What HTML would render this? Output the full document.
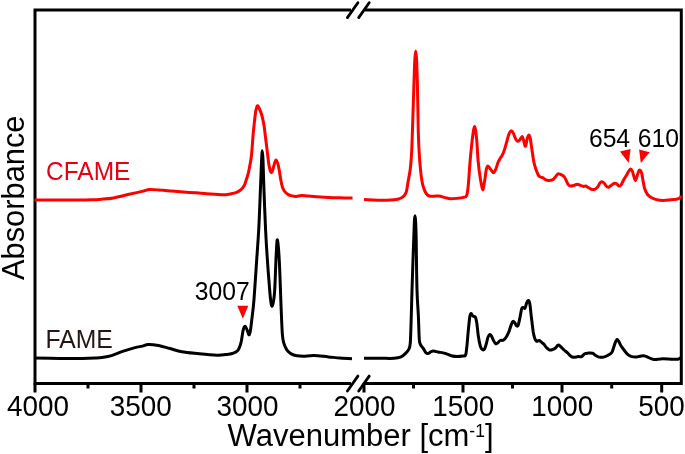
<!DOCTYPE html>
<html>
<head>
<meta charset="utf-8">
<title>FTIR spectra</title>
<style>
html,body{margin:0;padding:0;background:#fff;}
body{width:685px;height:454px;overflow:hidden;}
svg{display:block;}
text{font-family:"Liberation Sans",Arial,Helvetica,sans-serif;}
</style>
</head>
<body>
<svg width="685" height="454" viewBox="0 0 685 454">
<rect width="685" height="454" fill="#fff"/>
<!-- frame -->
<g fill="none" stroke="#000" stroke-width="3">
<path d="M351 10H35V383.5H351"/>
<path d="M365 10H681.3V383.5H365"/>
</g>
<!-- axis break marks -->
<g fill="none" stroke="#000" stroke-width="2.8" stroke-linecap="round">
<path d="M347.4 17.6L357.9 2.7"/>
<path d="M358.7 17.6L369.2 2.7"/>
<path d="M347.4 391L357.9 376.1"/>
<path d="M358.7 391L369.2 376.1"/>
</g>
<!-- ticks -->
<g fill="none" stroke="#000" stroke-width="3">
<path d="M35 383V392.4M141 383V392.4M247 383V392.4M364 383V392.4M463 383V392.4M562 383V392.4M661.7 383V392.4"/>
<path d="M88 383V388.5M194 383V388.5M300 383V388.5M413.5 383V388.5M512.5 383V388.5M611.7 383V388.5"/>
</g>
<!-- tick labels -->
<g font-size="28" fill="#000" text-anchor="middle" transform="translate(0,415.7) scale(0.995,1.04)">
<text x="38.2" y="0">4000</text>
<text x="141.5" y="0">3500</text>
<text x="248.8" y="0">3000</text>
<text x="366.4" y="0">2000</text>
<text x="465.5" y="0">1500</text>
<text x="565.1" y="0">1000</text>
<text x="664.8" y="0">500</text>
</g>
<!-- axis titles -->
<text x="227.6" y="445.8" font-size="31" fill="#000">Wavenumber [cm<tspan font-size="17.5" dy="-8.6">-1</tspan><tspan dy="8.6">]</tspan></text>
<text transform="translate(24,280.1) rotate(-90)" font-size="30.85" fill="#000">Absorbance</text>
<!-- curves -->
<g fill="none" stroke="#fe0000" stroke-width="3" stroke-linejoin="round">
<path d="M34.6 200.0C38.8 200.0 52.4 200.0 60.0 200.0C67.6 200.0 74.7 200.0 80.0 200.0C85.3 200.0 88.4 199.9 92.0 199.8C95.6 199.7 98.1 199.5 101.7 199.2C105.3 198.9 109.5 198.6 113.4 197.9C117.3 197.2 121.1 196.1 125.0 195.2C128.9 194.3 133.6 193.3 136.7 192.6C139.8 191.9 141.5 191.5 143.7 191.0C145.8 190.5 146.9 189.7 149.6 189.5C152.3 189.3 156.4 189.8 160.1 190.1C163.8 190.3 167.9 190.7 171.8 191.0C175.7 191.3 179.6 191.7 183.5 192.0C187.4 192.3 191.2 192.5 195.1 192.8C199.0 193.1 202.9 193.4 206.8 193.7C210.7 194.0 215.3 194.3 218.5 194.5C221.7 194.7 224.1 194.8 226.0 194.7C227.9 194.6 228.5 194.3 230.2 194.0C231.9 193.7 234.2 193.4 236.0 192.7C237.8 192.0 239.3 191.2 240.7 189.9C242.1 188.7 243.3 187.3 244.4 185.2C245.5 183.1 246.2 179.9 247.0 177.5C247.8 175.1 248.2 174.1 248.9 170.5C249.6 166.9 250.7 162.0 251.4 156.0C252.1 150.0 252.6 140.5 253.1 134.7C253.6 128.9 254.1 125.4 254.5 121.4C254.9 117.4 255.3 113.5 255.8 110.9C256.3 108.3 256.8 106.2 257.4 105.8C258.0 105.4 258.6 107.0 259.3 108.5C260.0 110.0 261.0 112.6 261.7 114.8C262.4 117.0 262.9 119.5 263.3 121.7C263.8 123.9 263.9 124.7 264.4 128.0C264.8 131.3 265.4 136.8 266.0 141.3C266.6 145.8 267.2 151.2 267.7 155.0C268.2 158.8 268.3 161.2 268.8 164.0C269.3 166.8 270.0 170.2 270.6 171.5C271.2 172.8 271.6 172.7 272.2 171.5C272.8 170.3 273.6 166.3 274.2 164.4C274.8 162.5 275.4 160.0 276.0 160.0C276.6 160.0 277.4 162.5 278.0 164.4C278.6 166.3 279.0 169.0 279.5 171.7C280.0 174.4 280.4 177.8 280.9 180.4C281.4 183.0 281.8 185.2 282.4 187.0C283.0 188.8 283.6 190.1 284.6 191.4C285.6 192.7 287.0 193.8 288.2 194.6C289.4 195.3 290.5 195.6 291.9 195.9C293.2 196.2 294.7 196.5 296.3 196.4C297.9 196.3 299.4 195.6 301.4 195.5C303.3 195.4 305.4 195.9 308.0 196.1C310.6 196.3 313.3 196.6 316.7 196.8C320.1 197.0 324.5 197.2 328.4 197.4C332.3 197.6 336.1 197.7 340.1 197.8C344.1 197.9 350.4 198.1 352.5 198.1"/>
<path d="M364.0 199.6C366.7 199.7 375.6 200.2 380.0 200.3C384.4 200.4 387.7 200.3 390.6 200.1C393.5 199.9 395.6 199.7 397.6 199.2C399.7 198.7 401.5 198.0 402.9 196.9C404.3 195.8 405.2 195.1 406.1 192.5C407.0 189.9 407.5 185.1 408.2 181.1C408.9 177.1 409.7 173.7 410.3 168.7C410.9 163.7 411.4 157.2 411.7 151.1C412.0 145.0 412.0 143.0 412.4 132.0C412.8 121.0 413.5 97.0 413.9 85.0C414.3 73.0 414.5 65.7 414.8 60.0C415.1 54.3 415.4 51.0 415.7 51.0C416.0 51.0 416.3 54.3 416.6 60.0C416.9 65.7 417.1 73.0 417.4 85.0C417.7 97.0 418.0 121.0 418.3 132.0C418.6 143.0 418.8 145.6 419.1 151.1C419.4 156.6 419.7 160.8 420.1 165.2C420.5 169.6 420.9 174.0 421.4 177.5C421.9 181.0 422.3 183.7 423.1 186.3C423.9 189.0 425.1 191.8 426.1 193.4C427.1 195.0 428.0 195.5 429.3 196.0C430.6 196.5 432.4 196.2 434.0 196.2C435.6 196.2 437.1 195.8 439.0 196.0C440.9 196.2 443.2 197.2 445.1 197.6C447.0 198.0 448.3 198.6 450.4 198.7C452.5 198.8 455.3 198.5 457.5 198.3C459.7 198.1 462.1 197.8 463.6 197.3C465.1 196.9 465.8 197.5 466.6 195.6C467.4 193.7 467.6 191.9 468.2 186.0C468.8 180.1 469.5 167.9 470.2 160.0C470.9 152.1 471.7 144.2 472.4 138.6C473.1 133.0 473.9 126.5 474.6 126.5C475.3 126.5 476.0 132.9 476.6 138.6C477.2 144.3 477.5 154.0 478.1 160.6C478.7 167.2 479.5 173.5 480.3 178.3C481.1 183.2 482.0 189.3 482.7 189.7C483.4 190.1 484.1 183.9 484.7 180.5C485.3 177.1 485.8 171.8 486.3 169.4C486.9 167.0 487.3 166.1 488.0 166.1C488.7 166.1 489.8 168.3 490.7 169.4C491.6 170.5 492.7 172.7 493.5 172.7C494.3 172.7 495.0 171.1 495.7 169.4C496.4 167.8 497.2 164.6 497.9 162.8C498.6 161.0 499.4 159.7 500.1 158.4C500.8 157.1 501.6 156.6 502.3 155.1C503.0 153.6 503.8 151.8 504.5 149.6C505.2 147.4 506.0 144.5 506.7 141.9C507.4 139.3 508.2 136.0 508.9 134.2C509.6 132.4 510.4 131.1 511.1 130.9C511.8 130.7 512.6 131.8 513.3 133.1C514.0 134.4 514.8 137.2 515.5 138.6C516.2 140.0 517.0 141.1 517.7 141.3C518.4 141.5 519.1 140.5 519.9 139.7C520.6 138.9 521.6 136.2 522.2 136.4C522.8 136.6 523.2 139.2 523.7 140.8C524.2 142.5 524.9 146.7 525.5 146.3C526.1 145.9 526.7 140.5 527.2 138.6C527.8 136.7 528.3 134.9 528.8 134.9C529.3 134.9 529.8 136.0 530.3 138.6C530.8 141.2 531.5 146.8 532.1 150.7C532.7 154.5 533.1 158.6 533.8 161.7C534.4 164.8 535.2 167.1 536.0 169.4C536.8 171.7 537.9 174.3 538.7 175.6C539.5 176.9 540.2 176.8 540.9 177.2C541.6 177.6 542.4 177.4 543.1 177.8C543.8 178.2 544.4 179.2 545.3 179.6C546.2 180.0 547.3 180.5 548.6 180.5C549.9 180.5 551.9 180.2 553.0 179.6C554.1 179.0 554.4 178.2 555.2 177.2C556.0 176.2 557.1 174.2 558.0 173.8C558.9 173.4 559.7 174.1 560.7 174.5C561.7 174.9 563.1 175.5 564.0 176.5C564.9 177.5 565.5 179.2 566.2 180.5C566.9 181.8 567.5 183.7 568.2 184.6C568.9 185.5 569.5 185.8 570.4 186.0C571.3 186.2 572.7 185.8 573.8 185.5C574.9 185.2 576.0 184.2 577.1 184.2C578.2 184.2 579.3 184.9 580.4 185.3C581.5 185.7 582.8 186.3 583.7 186.4C584.6 186.5 585.2 185.8 585.9 186.0C586.6 186.2 587.2 186.9 588.1 187.5C589.0 188.1 590.3 189.0 591.4 189.3C592.5 189.6 593.7 189.7 594.7 189.3C595.7 188.9 596.8 188.1 597.6 187.1C598.5 186.1 599.1 184.0 599.8 183.1C600.5 182.2 601.3 181.8 602.0 181.8C602.7 181.8 603.4 182.5 604.2 183.3C605.0 184.1 606.0 186.0 606.8 186.6C607.6 187.2 608.2 187.4 609.0 187.1C609.8 186.8 610.8 185.5 611.7 184.9C612.6 184.3 613.7 183.5 614.5 183.3C615.3 183.1 616.0 183.4 616.7 183.8C617.4 184.2 618.2 185.8 618.9 186.0C619.6 186.2 620.4 185.8 621.1 184.9C621.8 184.0 622.4 182.2 623.3 180.5C624.2 178.8 625.7 176.6 626.6 175.0C627.5 173.4 628.1 172.2 628.8 171.2C629.5 170.2 630.0 169.0 630.6 169.0C631.2 169.0 631.9 170.2 632.4 171.4C632.9 172.7 633.4 175.0 633.9 176.5C634.4 178.0 635.0 180.6 635.5 180.5C636.0 180.4 636.6 177.5 637.1 176.0C637.6 174.5 638.1 172.5 638.6 171.5C639.1 170.5 639.5 169.9 640.0 170.2C640.5 170.4 641.1 171.4 641.6 173.0C642.1 174.6 642.4 177.4 642.9 180.0C643.4 182.6 643.9 186.4 644.7 188.8C645.5 191.2 646.5 193.2 647.7 194.7C648.9 196.2 650.2 196.9 651.7 197.7C653.2 198.5 654.6 199.1 656.6 199.6C658.6 200.1 661.2 200.4 663.6 200.4C666.0 200.4 668.6 200.0 670.7 199.8C672.8 199.6 674.8 199.4 676.2 199.2C677.6 198.9 678.4 198.9 679.3 198.3C680.2 197.7 681.0 196.2 681.4 195.8"/>
</g>
<g fill="none" stroke="#000" stroke-width="3" stroke-linejoin="round">
<path d="M35.0 358.1C39.2 358.2 52.2 358.3 60.0 358.4C67.8 358.5 76.2 358.6 82.0 358.5C87.8 358.4 91.7 358.2 95.0 358.0C98.3 357.8 99.2 357.8 102.0 357.4C104.8 357.0 107.9 356.7 111.5 355.6C115.1 354.6 119.5 352.4 123.4 351.1C127.3 349.8 131.8 348.4 135.0 347.6C138.2 346.8 140.2 346.6 142.4 346.1C144.6 345.6 145.5 344.5 148.2 344.4C150.9 344.3 154.9 344.8 158.5 345.5C162.1 346.2 166.1 347.5 170.0 348.5C173.9 349.5 176.9 350.8 181.8 351.7C186.7 352.6 193.5 353.1 199.3 353.7C205.2 354.3 212.5 355.0 216.9 355.2C221.3 355.4 223.0 354.9 225.6 354.6C228.2 354.3 230.2 354.2 232.3 353.5C234.4 352.8 236.5 352.2 237.9 350.4C239.3 348.6 240.1 346.0 241.0 342.7C241.9 339.4 242.4 333.0 243.1 330.3C243.8 327.6 244.5 326.0 245.3 326.3C246.1 326.6 247.2 330.5 247.8 331.9C248.5 333.3 248.8 335.2 249.2 334.9C249.6 334.6 250.1 332.4 250.5 330.0C250.9 327.6 251.1 325.6 251.7 320.5C252.3 315.4 253.2 309.5 254.0 299.4C254.8 289.3 255.9 271.3 256.7 259.7C257.5 248.1 258.0 242.4 258.7 230.0C259.4 217.6 260.1 196.7 260.6 185.0C261.1 173.3 261.3 165.7 261.6 160.0C261.9 154.3 262.1 150.8 262.3 150.8C262.5 150.8 262.8 154.3 263.0 160.0C263.2 165.7 263.4 173.3 263.8 185.0C264.2 196.7 265.0 217.5 265.6 230.0C266.2 242.5 266.8 251.7 267.4 260.0C267.9 268.3 268.3 273.2 268.9 280.0C269.4 286.8 270.1 296.2 270.7 300.5C271.3 304.8 271.6 307.3 272.3 305.8C273.0 304.3 274.0 300.2 274.6 291.7C275.2 283.2 275.7 263.3 276.2 254.7C276.7 246.1 276.9 238.9 277.4 239.9C277.9 240.9 278.7 249.7 279.3 260.9C279.9 272.1 280.6 294.9 281.1 307.2C281.6 319.5 281.9 328.6 282.4 334.6C282.9 340.6 283.2 340.8 283.9 343.4C284.6 345.9 285.6 348.1 286.8 349.9C288.0 351.6 289.5 352.9 291.2 353.9C292.9 354.9 294.9 355.4 297.0 355.8C299.1 356.2 300.8 356.2 303.6 356.2C306.4 356.1 309.7 355.4 313.8 355.5C317.9 355.6 324.0 356.5 328.4 356.9C332.8 357.3 336.2 357.7 340.1 358.0C344.0 358.3 350.0 358.6 352.0 358.7"/>
<path d="M364.0 358.2C366.7 358.2 375.0 358.3 380.0 358.3C385.0 358.3 390.6 358.5 394.1 358.3C397.6 358.1 399.2 357.7 401.1 356.9C403.0 356.1 404.2 354.7 405.5 353.4C406.8 352.1 408.2 350.8 409.0 349.0C409.8 347.2 410.0 346.8 410.3 342.8C410.6 338.8 410.7 334.0 411.0 325.2C411.3 316.4 411.6 304.2 412.0 290.0C412.4 275.8 413.3 251.5 413.7 240.0C414.1 228.5 414.2 225.0 414.4 221.0C414.6 217.0 414.8 215.8 415.0 215.8C415.2 215.8 415.4 217.0 415.6 221.0C415.8 225.0 416.0 228.5 416.2 240.0C416.4 251.5 416.6 277.3 417.0 290.0C417.4 302.7 418.0 308.2 418.4 316.4C418.8 324.6 418.9 334.6 419.3 339.3C419.7 344.0 419.9 343.1 420.5 344.6C421.1 346.1 422.2 346.7 423.1 348.1C424.0 349.5 425.2 352.1 426.1 353.0C427.0 353.9 427.6 353.6 428.4 353.4C429.2 353.2 430.2 352.0 431.1 351.6C432.0 351.2 432.5 351.0 433.7 351.1C434.9 351.2 436.2 351.6 438.1 352.0C440.0 352.4 442.8 352.7 445.1 353.4C447.5 354.1 450.1 355.5 452.2 356.0C454.3 356.5 455.8 356.5 457.5 356.5C459.2 356.5 461.3 356.2 462.7 356.0C464.1 355.8 464.9 356.5 465.6 355.0C466.3 353.5 466.3 351.2 466.8 347.0C467.3 342.8 467.9 334.5 468.4 329.5C468.9 324.5 469.4 319.5 469.8 316.8C470.2 314.1 470.6 313.6 471.1 313.5C471.7 313.4 472.4 315.6 473.1 316.2C473.8 316.8 474.7 315.9 475.3 317.0C475.9 318.1 476.3 319.8 476.8 323.0C477.3 326.2 477.7 332.1 478.3 336.0C478.9 339.9 479.7 343.9 480.3 346.1C480.9 348.3 481.4 348.8 482.1 349.4C482.8 349.9 483.6 350.3 484.3 349.4C485.0 348.5 485.7 345.8 486.3 343.8C486.9 341.8 487.4 338.8 488.0 337.2C488.6 335.6 489.2 334.6 489.8 334.4C490.4 334.2 490.9 335.1 491.5 336.1C492.1 337.1 492.8 339.2 493.5 340.5C494.2 341.8 495.0 343.4 495.7 343.8C496.4 344.2 497.2 343.2 497.9 342.7C498.6 342.1 499.2 340.9 500.1 340.5C501.0 340.1 502.4 340.7 503.4 340.1C504.4 339.6 505.2 338.6 506.1 337.2C507.0 335.8 508.1 333.7 508.9 331.7C509.7 329.7 510.4 326.8 511.1 325.1C511.8 323.4 512.3 321.8 512.9 321.4C513.5 321.0 514.3 322.2 514.9 322.9C515.5 323.6 516.0 325.4 516.6 325.8C517.2 326.2 517.6 326.5 518.2 325.1C518.8 323.7 519.4 320.1 520.0 317.4C520.6 314.6 521.2 310.2 521.7 308.6C522.2 307.0 522.8 307.6 523.3 307.5C523.8 307.4 524.5 308.9 525.0 308.2C525.5 307.5 526.1 304.4 526.6 303.1C527.1 301.8 527.8 300.3 528.3 300.5C528.8 300.7 529.4 301.4 529.9 304.2C530.4 307.0 530.8 312.8 531.4 317.4C532.0 322.0 532.7 328.2 533.2 331.7C533.8 335.2 534.2 336.7 534.7 338.3C535.2 339.9 535.8 340.8 536.5 341.2C537.2 341.6 538.2 340.2 539.1 340.5C540.0 340.8 541.1 342.0 542.0 342.7C542.9 343.4 543.5 343.7 544.2 344.5C544.9 345.3 545.6 346.7 546.4 347.6C547.2 348.5 548.3 349.4 549.2 349.8C550.1 350.2 550.9 350.1 551.9 349.8C552.9 349.6 554.3 349.0 555.2 348.3C556.1 347.6 556.8 346.2 557.4 345.6C558.0 345.1 558.3 344.7 558.9 345.0C559.5 345.3 560.2 346.4 561.1 347.2C562.0 348.0 563.0 349.1 564.0 350.0C565.0 350.9 566.2 351.6 567.3 352.6C568.4 353.6 569.6 355.2 570.6 356.0C571.6 356.8 572.2 357.2 573.5 357.3C574.8 357.4 576.9 356.7 578.2 356.6C579.5 356.5 580.4 357.1 581.5 356.6C582.6 356.1 583.7 354.4 584.8 353.8C585.9 353.2 586.8 353.2 588.1 353.1C589.4 353.0 591.2 352.9 592.5 353.3C593.8 353.7 594.7 354.9 595.8 355.5C596.9 356.1 597.8 356.8 599.1 357.1C600.4 357.4 602.0 357.4 603.5 357.1C605.0 356.8 606.5 356.0 607.9 355.3C609.3 354.6 610.8 353.9 611.7 352.7C612.6 351.5 612.8 350.0 613.4 348.3C614.0 346.6 614.6 344.2 615.2 342.7C615.8 341.2 616.4 339.6 617.0 339.4C617.6 339.2 618.2 340.5 618.9 341.6C619.6 342.7 620.2 344.6 621.1 346.1C622.0 347.6 623.3 349.1 624.4 350.5C625.5 351.9 626.6 353.4 627.7 354.4C628.8 355.4 629.8 355.9 631.1 356.4C632.4 356.8 634.0 357.1 635.5 357.1C637.0 357.1 638.5 356.4 639.9 356.2C641.3 356.0 642.5 355.5 643.8 355.7C645.1 355.9 646.2 356.5 647.6 357.1C649.0 357.7 651.0 358.7 652.3 359.1C653.6 359.5 654.1 359.6 655.5 359.6C656.9 359.6 658.3 359.0 660.5 358.9C662.7 358.8 665.8 358.9 668.5 359.0C671.2 359.1 674.7 359.4 676.5 359.3C678.3 359.2 678.5 359.0 679.3 358.7C680.1 358.4 680.9 357.5 681.2 357.3"/>
</g>
<!-- annotations -->
<text transform="translate(46,180.2) scale(1,1.04)" font-size="24.5" fill="#e60012">CFAME</text>
<text transform="translate(45.6,347.8) scale(1,1.04)" font-size="24.7" fill="#231815">FAME</text>
<text transform="translate(194.7,300.2) scale(1,1.07)" font-size="24.7" fill="#000">3007</text>
<text transform="translate(588.9,146.9) scale(1,1.06)" font-size="24.7" word-spacing="0.8" fill="#000">654 610</text>
<g fill="#fe0000">
<path d="M237.3 305.7H248.3L242.8 318.8Z"/>
<path d="M620 151.6L630.6 148.9L628.7 163Z"/>
<path d="M639.1 149.4L649.7 152.3L640.8 163.1Z"/>
</g>
</svg>
</body>
</html>
